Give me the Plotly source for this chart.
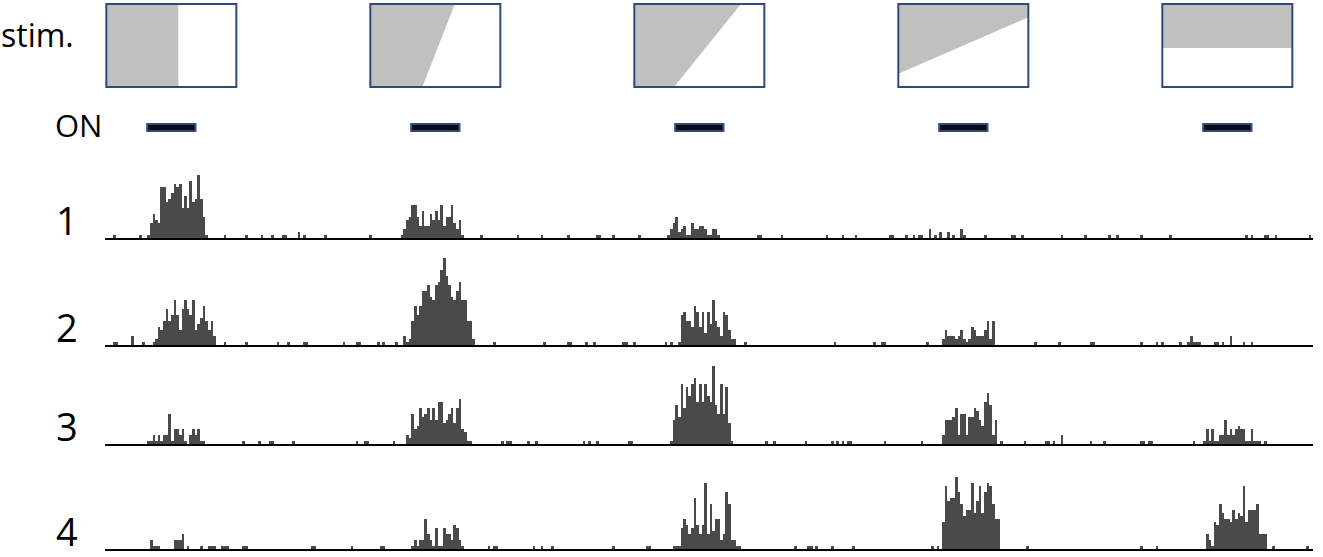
import numpy as np
import plotly.graph_objects as go

# ---------------- data (time in 40 ms bins, counts per bin) ----------------
BIN_S = 0.04
T_END = 18.303                      # seconds shown
stim_onsets = [0.64, 4.64, 8.64, 12.64, 16.64]
on_duration = 0.73
row_labels = ["1", "2", "3", "4"]

# gray part of each stimulus icon, as fractions of the icon box (u: left->right, v: top->bottom)
stim_shapes = [
    [(0, 0), (0.554, 0), (0.554, 1), (0, 1)],
    [(0, 0), (0.65, 0), (0.40, 1), (0, 1)],
    [(0, 0), (0.82, 0), (0.305, 1), (0, 1)],
    [(0, 0), (1, 0), (1, 0.16), (0, 0.84)],
    [(0, 0), (1, 0), (1, 0.53), (0, 0.53)],
]

# row 1
r1_starts = [16, 112, 213]
r1_b1 = [1, 5, 8, 6, 5, 17, 17, 12, 13, 15, 18, 17, 18, 10, 14, 10, 19, 12, 13, 21, 13, 7, 1]
r1_b2 = [1, 3, 6, 7, 11, 11, 7, 4, 9, 4, 4, 8, 6, 9, 6, 11, 4, 7, 7, 11, 5, 3, 6, 1]
r1_b3 = [1, 3, 5, 7, 2, 3, 4, 1, 1, 5, 3, 3, 4, 4, 3, 1, 1, 3, 3, 1]
r1_spikes = [3, 13, 45, 53, 59, 63, 67, 68, 73, 73, 75, 83, 100, 142, 156, 165, 175, 186, 187,
             192, 202, 247, 248, 256, 273, 279, 284, 297, 298, 303, 306, 308, 309, 312, 312,
             312, 314, 316, 316, 319, 319, 321, 324, 324, 324, 325, 333, 343, 344, 347, 362,
             371, 380, 383, 392, 403, 432, 434, 439, 440, 443, 456]

# row 2
r2_starts = [19, 115, 217, 317]
r2_b1 = [2, 6, 5, 8, 12, 8, 10, 15, 10, 5, 12, 15, 12, 10, 15, 5, 7, 9, 13, 8, 5, 8, 3]
r2_b2 = [2, 8, 13, 10, 13, 18, 18, 20, 16, 15, 20, 21, 25, 29, 23, 20, 16, 15, 18, 21, 15, 15, 8, 8, 2]
r2_b3 = [1, 10, 11, 8, 8, 6, 13, 11, 6, 11, 4, 11, 7, 15, 8, 6, 3, 11, 10, 5, 2, 2]
r2_b4 = [2, 5, 3, 3, 3, 2, 3, 5, 2, 1, 2, 6, 5, 3, 3, 3, 5, 8, 2, 8]
r2_spikes = [3, 4, 10, 10, 10, 14, 18, 45, 53, 65, 69, 75, 76, 90, 95, 96, 103, 105, 110, 113,
             113, 113, 114, 147, 166, 175, 176, 182, 185, 196, 197, 200, 212, 214, 242, 276,
             291, 294, 295, 311, 352, 361, 373, 374, 392, 398, 400, 407, 410, 411, 411, 411,
             412, 413, 414, 420, 421, 423, 426, 426, 426, 431, 434]

# row 3
r3_starts = [16, 114, 214, 317, 416]
r3_b1 = [1, 1, 3, 1, 3, 1, 3, 3, 10, 1, 5, 5, 3, 5, 1, 0, 3, 5, 3, 5, 1, 1]
r3_b2 = [3, 2, 10, 5, 6, 12, 9, 10, 12, 8, 12, 8, 14, 14, 7, 8, 10, 12, 7, 12, 15, 5, 4, 1]
r3_b3 = [1, 8, 13, 9, 20, 12, 19, 16, 20, 22, 14, 20, 14, 20, 16, 14, 26, 13, 10, 20, 10, 19, 7, 1]
r3_b4 = [3, 8, 8, 8, 9, 12, 3, 10, 10, 3, 9, 9, 12, 11, 8, 6, 14, 17, 13, 3, 8]
r3_b5 = [1, 5, 1, 5, 1, 1, 3, 3, 8, 3, 5, 3, 5, 6, 5, 5, 1, 1, 5, 1, 1, 1, 0, 1]
r3_spikes = [52, 58, 62, 63, 71, 95, 98, 99, 109, 138, 150, 152, 153, 160, 163, 181, 183, 186,
             198, 199, 250, 253, 265, 275, 277, 279, 281, 282, 295, 309, 339, 348, 356, 357,
             359, 362, 362, 362, 373, 378, 392, 393, 395, 396, 412]

# row 4
r4_starts = [116, 215, 317, 417]
r4_b2 = [1, 3, 1, 3, 3, 10, 5, 3, 1, 7, 1, 1, 7, 5, 5, 3, 8, 7, 3, 1]
r4_b3 = [1, 1, 1, 7, 10, 8, 5, 7, 17, 8, 5, 8, 22, 5, 15, 6, 10, 10, 3, 5, 19, 15, 3, 3, 1, 1]
r4_b4 = [9, 21, 16, 17, 17, 24, 19, 15, 11, 13, 13, 22, 12, 16, 21, 12, 19, 22, 21, 15, 10, 10]
r4_b5 = [5, 3, 1, 9, 8, 15, 12, 10, 10, 9, 13, 10, 12, 11, 21, 9, 13, 13, 13, 15, 5, 5, 5]
r4_spikes = [17, 17, 17, 18, 19, 20, 26, 26, 26, 27, 27, 27, 28, 28, 28, 29, 29, 29, 29, 29,
             31, 36, 39, 40, 41, 44, 45, 46, 52, 53, 78, 79, 93, 104, 105, 145, 147, 148, 162,
             165, 169, 192, 205, 206, 261, 266, 267, 269, 275, 283, 313, 315, 349, 392, 398,
             442, 455]

rows = [
    (r1_starts, [r1_b1, r1_b2, r1_b3], r1_spikes),
    (r2_starts, [r2_b1, r2_b2, r2_b3, r2_b4], r2_spikes),
    (r3_starts, [r3_b1, r3_b2, r3_b3, r3_b4, r3_b5], r3_spikes),
    (r4_starts, [r4_b2, r4_b3, r4_b4, r4_b5], r4_spikes),
]

# ---------------- layout / style ----------------
W, H = 1323, 557
ML, MR = 105, 10
BAR_COLOR = "#4a4a4a"
BOX_LINE = "#2f4b7c"
GRAY = "#c0c0c0"
FONT = "Open Sans"
row_base_px = [238, 345, 444, 549]
row_height_px = 100
px_per_count = 3.0
box_w_s = 1.97
box_top_px, box_bot_px = 4, 87
on_top_px, on_bot_px = 124, 131


def py(px):
    return 1 - px / H


n_bins = int(np.ceil(T_END / BIN_S))
centers = (np.arange(n_bins) + 0.5) * BIN_S

fig = go.Figure()
for r, (starts, bursts, spikes) in enumerate(rows):
    counts = np.zeros(n_bins)
    for s, b in zip(starts, bursts):
        counts[s:s + len(b)] += np.array(b, dtype=float)
    np.add.at(counts, np.array(spikes), 1)
    sfx = "" if r == 0 else str(r + 1)
    fig.add_trace(go.Bar(x=centers, y=counts, width=BIN_S,
                         marker=dict(color=BAR_COLOR, line=dict(width=0)),
                         xaxis="x" + sfx, yaxis="y" + sfx, showlegend=False,
                         hoverinfo="skip"))
    base = row_base_px[r]
    fig.layout["xaxis" + sfx] = dict(range=[0, T_END], domain=[0, 1], anchor="y" + sfx,
                                     showline=True, linecolor="black", linewidth=1.6,
                                     showticklabels=False, ticks="", showgrid=False,
                                     zeroline=False, fixedrange=True)
    fig.layout["yaxis" + sfx] = dict(range=[0, row_height_px / px_per_count],
                                     domain=[py(base), py(base - row_height_px)],
                                     anchor="x" + sfx, visible=False, fixedrange=True)
    fig.add_annotation(text=row_labels[r], xref="paper", yref="paper",
                       x=(67 - ML) / (W - ML - MR), y=py(base - 18),
                       xanchor="center", yanchor="middle", showarrow=False,
                       font=dict(family=FONT, size=38, color="black"))

shapes = []
for k, onset in enumerate(stim_onsets):
    c = onset + on_duration / 2
    x0 = c - box_w_s / 2
    yt, yb = py(box_top_px), py(box_bot_px)
    pts = [(x0 + u * box_w_s, yt + v * (yb - yt)) for u, v in stim_shapes[k]]
    path = "M " + " L ".join(f"{x:.4f},{y:.5f}" for x, y in pts) + " Z"
    shapes.append(dict(type="path", path=path, xref="x", yref="paper",
                       fillcolor=GRAY, line=dict(width=0)))
    shapes.append(dict(type="rect", x0=x0, x1=x0 + box_w_s, y0=yb, y1=yt,
                       xref="x", yref="paper", line=dict(color=BOX_LINE, width=2),
                       fillcolor="rgba(0,0,0,0)"))
    shapes.append(dict(type="rect", x0=onset, x1=onset + on_duration,
                       y0=py(on_bot_px), y1=py(on_top_px), xref="x", yref="paper",
                       fillcolor="#0b0b18", line=dict(color=BOX_LINE, width=2)))

fig.add_annotation(text="stim.", xref="paper", yref="paper",
                   x=(76 - ML) / (W - ML - MR), y=py(34), xanchor="right", yanchor="middle",
                   showarrow=False, font=dict(family=FONT, size=32, color="black"))
fig.add_annotation(text="ON", xref="paper", yref="paper",
                   x=(104 - ML) / (W - ML - MR), y=py(125), xanchor="right", yanchor="middle",
                   showarrow=False, font=dict(family=FONT, size=31, color="black"))

fig.update_layout(width=W, height=H, margin=dict(l=ML, r=MR, t=0, b=0),
                  paper_bgcolor="white", plot_bgcolor="rgba(0,0,0,0)",
                  bargap=0, barmode="overlay", shapes=shapes, showlegend=False)

fig.write_html("out.html", config={"displayModeBar": False, "staticPlot": True},
               post_script="document.body.style.margin='0';document.body.style.overflow='hidden';")
